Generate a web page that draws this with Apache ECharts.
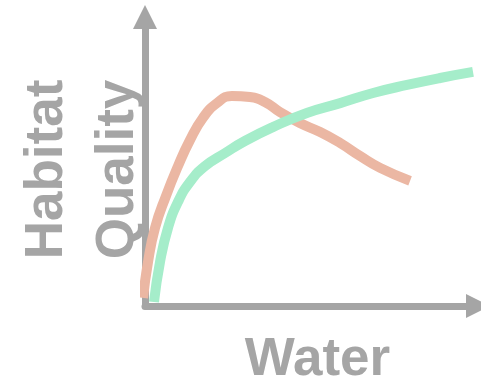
<!DOCTYPE html>
<html>
<head>
<meta charset="utf-8">
<script src="https://cdn.jsdelivr.net/npm/echarts@6/dist/echarts.min.js"></script>
<style>
html, body { margin: 0; padding: 0; background: #fff; }
#chart { width: 481px; height: 384px; }
</style>
</head>
<body>
<div id="chart"></div>
<script>
// sketch curves (x: water 0-100, y: quality 0-100)
var peakedX = [-0.6, 0.9, 3.0, 6.3, 9.9, 13.5, 17.4, 21.6, 26.1, 31.5, 36.0, 40.5, 46.5, 52.6, 58.6, 64.6, 70.6, 79.6];
var peakedY = [2.8, 15.2, 27.0, 38.1, 48.4, 57.4, 65.1, 70.2, 72.7, 72.3, 70.6, 67.1, 63.3, 60.2, 56.4, 51.9, 47.8, 43.3];
var risingX = [2.7, 4.5, 6.9, 9.9, 13.5, 18.0, 24.0, 30.0, 38.4, 48.6, 58.6, 68.5, 78.7, 88.6, 98.5];
var risingY = [1.4, 15.2, 27.0, 36.0, 42.9, 48.4, 52.9, 57.1, 61.9, 66.8, 70.2, 73.7, 76.5, 78.9, 81.0];

var xName = 'Water';
var yName = 'Habitat\nQuality';

function pairs(xs, ys) {
	var out = [], i;
	for (i = 0; i < xs.length; i++)
	{
		out.push([xs[i], ys[i]]);
	}
	return out;
}

var grey = '#a5a5a5',
	myChart = echarts.init(document.getElementById('chart'), null, { renderer: 'canvas' }),
	option;

option = {
	animation: false,
	grid: {
		left: 145,
		right: 3,
		top: 17,
		bottom: 78,
		outerBoundsMode: 'none'
	},
	xAxis: {
		type: 'value',
		min: 0,
		max: 100,
		name: xName,
		nameLocation: 'middle',
		nameGap: 28,
		nameTextStyle: {
			color: grey,
			fontFamily: 'Liberation Sans',
			fontWeight: 'bold',
			fontSize: 53,
			padding: [0, 0, 0, 12]
		},
		axisLine: {
			show: true,
			symbol: ['none', 'triangle'],
			symbolSize: [24, 24],
			lineStyle: { color: grey, width: 7 }
		},
		axisTick: { show: false },
		axisLabel: { show: false },
		splitLine: { show: false }
	},
	yAxis: {
		type: 'value',
		min: 0,
		max: 100,
		name: yName,
		nameLocation: 'middle',
		nameGap: -9,
		nameTextStyle: {
			color: grey,
			fontFamily: 'Liberation Sans',
			fontWeight: 'bold',
			fontSize: 53,
			lineHeight: 71,
			padding: [0, 16, 0, 0]
		},
		axisLine: {
			show: true,
			symbol: ['none', 'triangle'],
			symbolSize: [24, 24],
			lineStyle: { color: grey, width: 7 }
		},
		axisTick: { show: false },
		axisLabel: { show: false },
		splitLine: { show: false }
	},
	series: [{
		name: 'peaked',
		type: 'line',
		data: pairs(peakedX, peakedY),
		smooth: 0.5,
		clip: false,
		showSymbol: false,
		lineStyle: { color: '#ebb7a3', width: 10, cap: 'butt' }
	}, {
		name: 'rising',
		type: 'line',
		data: pairs(risingX, risingY),
		smooth: 0.5,
		clip: false,
		showSymbol: false,
		lineStyle: { color: '#a5edca', width: 10, cap: 'butt' }
	}]
};

myChart.setOption(option);
</script>
</body>
</html>
